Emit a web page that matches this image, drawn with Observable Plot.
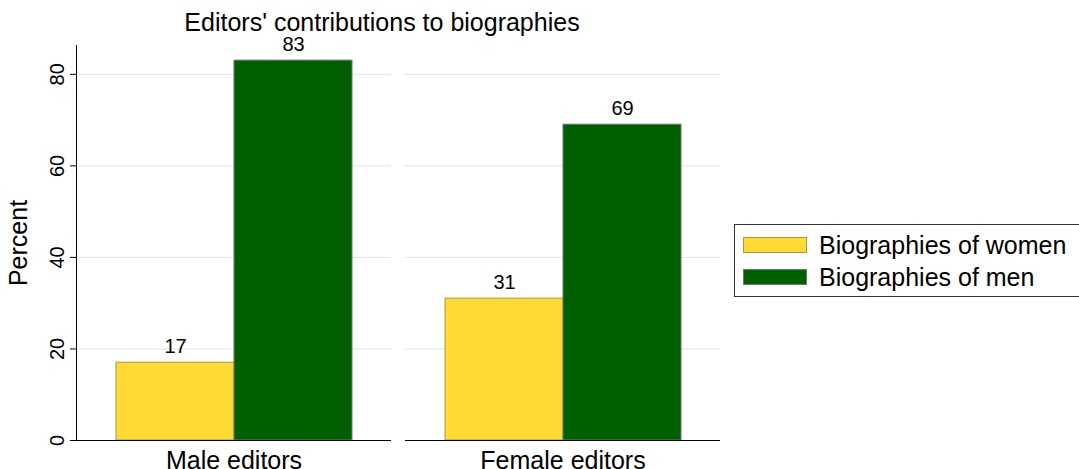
<!DOCTYPE html>
<html>
<head>
<meta charset="utf-8">
<script src="https://cdn.jsdelivr.net/npm/d3@7"></script>
<script src="https://cdn.jsdelivr.net/npm/@observablehq/plot@0.6"></script>
<style>
  html, body { margin: 0; padding: 0; background: #fff; }
  body { font-family: "Liberation Sans", Arial, Helvetica, sans-serif; }
  #wrap { position: relative; width: 1079px; height: 469px; overflow: hidden; }
  #title { position: absolute; left: 0; width: 764px; top: 10px; text-align: center; font-size: 25px; line-height: 25px; color: #000; }
  #legend { position: absolute; left: 734px; top: 224px; width: 380px; height: 71px; border: 1px solid #333; box-sizing: content-box; }
  .sw { position: absolute; left: 8px; width: 64px; height: 16px; box-sizing: border-box; border: 1px solid; }
  .lt { position: absolute; left: 84px; font-size: 25px; line-height: 25px; color: #000; white-space: nowrap; }
  #chart { position: absolute; left: 0; top: 0; }
</style>
</head>
<body>
<div id="wrap">
  <div id="chart"></div>
  <div id="title"></div>
  <div id="legend"></div>
</div>
<script>
// ---- data ----
const editors = ["Male editors", "Female editors"];
const series = ["Biographies of women", "Biographies of men"];
const womenPct = [17, 31];
const menPct = [83, 69];
const yTicks = [0, 20, 40, 60, 80];
const fillColors = ["#ffda33", "#005f00"];
const strokeColors = ["#a8983a", "#6b7d6b"];
const titleText = "Editors' contributions to biographies";
const yLabel = "Percent";

// build table
const rows = [];
editors.forEach((e, i) => {
  rows.push({editor: e, series: series[0], value: womenPct[i]});
  rows.push({editor: e, series: series[1], value: menPct[i]});
});
const fillOf = d => fillColors[series.indexOf(d.series)];
const strokeOf = d => strokeColors[series.indexOf(d.series)];

const chart = Plot.plot({
  width: 1079,
  height: 469,
  marginLeft: 75,
  marginRight: 358,
  marginTop: 45,
  marginBottom: 29,
  style: {fontFamily: "'Liberation Sans', Arial, Helvetica, sans-serif", background: "transparent", color: "#000"},
  fx: {domain: editors, paddingInner: 0.042, paddingOuter: 0, label: null},
  x: {domain: series, paddingInner: 0, paddingOuter: 0.332, axis: null},
  y: {domain: [0, 86.3]},
  color: {type: "identity"},
  marks: [
    Plot.gridY({ticks: yTicks.filter(t => t > 0), stroke: "#e2e2e2", strokeOpacity: 1, strokeWidth: 1}),
    Plot.barY(rows, {fx: "editor", x: "series", y: "value", fill: fillOf, stroke: strokeOf, strokeWidth: 1}),
    Plot.ruleY([0], {stroke: "#000", strokeWidth: 1}),
    Plot.frame({anchor: "left", facetAnchor: "left", stroke: "#000", strokeWidth: 1}),
    Plot.text(rows, {fx: "editor", x: "series", y: "value", text: d => String(d.value), dy: -16, fontSize: 20, fill: "#000"}),
    Plot.axisY({ticks: yTicks, tickSize: 6, tickPadding: 7, tickRotate: -90, fontSize: 20, label: null, stroke: "#000"}),
    Plot.axisY({ticks: [], tickSize: 0, label: yLabel, labelAnchor: "center", labelOffset: 67, labelArrow: "none", fontSize: 25}),
    Plot.axisFx({anchor: "bottom", tickSize: 0, tickPadding: 11, fontSize: 25, label: null})
  ]
});
document.getElementById("chart").appendChild(chart);

document.getElementById("title").textContent = titleText;

// legend
const legend = document.getElementById("legend");
series.forEach((s, i) => {
  const sw = document.createElement("div");
  sw.className = "sw";
  sw.style.top = (12 + i * 32) + "px";
  sw.style.background = fillColors[i];
  sw.style.borderColor = strokeColors[i];
  legend.appendChild(sw);
  const t = document.createElement("div");
  t.className = "lt";
  t.style.top = (8 + i * 32) + "px";
  t.textContent = s;
  legend.appendChild(t);
});
</script>
</body>
</html>
